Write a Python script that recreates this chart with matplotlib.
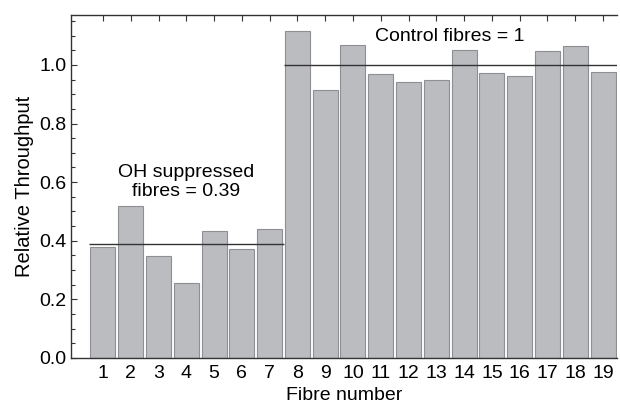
import numpy as np
import matplotlib.pyplot as plt
from matplotlib.ticker import MultipleLocator

plt.rcParams['font.family'] = ['Liberation Sans', 'DejaVu Sans']

# data
fibres = np.arange(1, 20)
throughput = [0.380, 0.519, 0.349, 0.256, 0.434, 0.371, 0.439,
              1.114, 0.915, 1.067, 0.969, 0.943, 0.948, 1.050,
              0.973, 0.963, 1.049, 1.065, 0.975]
oh_mean = 0.39
control_mean = 1.0

fig = plt.figure(figsize=(6.2, 4.07), dpi=100)
ax = fig.add_axes([0.1145, 0.1204, 0.8805, 0.8426])

ax.bar(fibres, throughput, width=0.9, color='#bbbcc0',
       edgecolor='#8e8f93', linewidth=0.8, zorder=2)
ax.hlines(oh_mean, 0.5, 7.5, color='#333333', linewidth=1.0, zorder=3)
ax.hlines(control_mean, 7.5, 19.5, color='#333333', linewidth=1.0, zorder=3)

ax.text(4, 0.54, 'OH suppressed\nfibres = 0.39', ha='center', va='bottom',
        fontsize=14, linespacing=1.12)
ax.text(13.5, 1.068, 'Control fibres = 1', ha='center', va='bottom',
        fontsize=14)

ax.set_xlim(-0.15, 19.5)
ax.set_ylim(0, 1.17)
ax.set_xticks(fibres)
ax.yaxis.set_major_locator(MultipleLocator(0.2))
ax.yaxis.set_minor_locator(MultipleLocator(0.05))
ax.yaxis.set_major_formatter(plt.FormatStrFormatter('%.1f'))
ax.tick_params(axis='both', which='both', direction='in', labelsize=14,
               top=True, right=False, color='#333333')
ax.tick_params(axis='both', which='major', length=4, width=0.8, pad=3)
ax.tick_params(axis='x', which='major', pad=5)
ax.tick_params(axis='both', which='minor', length=3, width=0.8)
ax.spines['right'].set_visible(False)
for s in ['left', 'top', 'bottom']:
    ax.spines[s].set_color('#333333')
    ax.spines[s].set_linewidth(1.0)

ax.set_xlabel('Fibre number', fontsize=14, labelpad=4)
ax.set_ylabel('Relative Throughput', fontsize=14.5, labelpad=4)

fig.savefig('out.png', dpi=100)
